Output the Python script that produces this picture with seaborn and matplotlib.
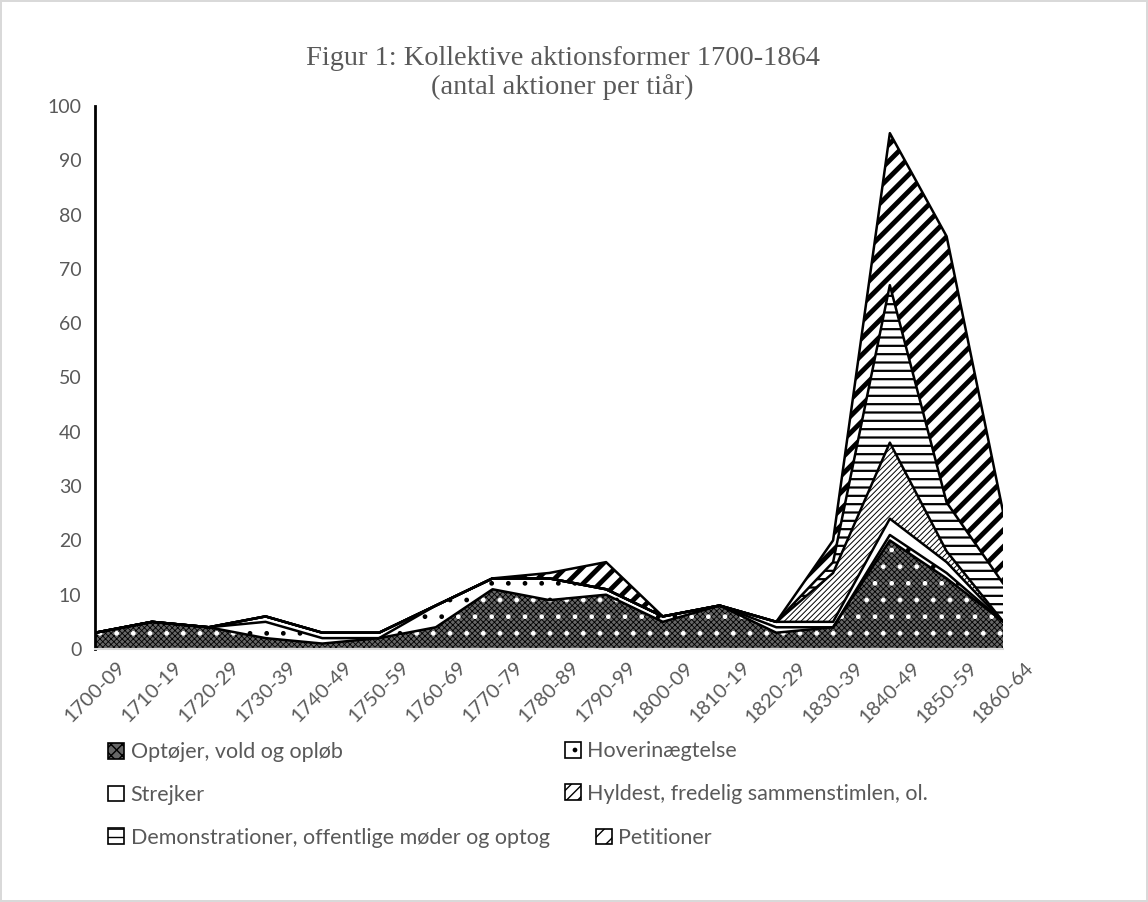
import numpy as np
import pandas as pd
import matplotlib
matplotlib.use("Agg")
import matplotlib.pyplot as plt
import seaborn as sns
from matplotlib.patches import Patch

# data (counts per decade, stacked)
periods = ["1700-09", "1710-19", "1720-29", "1730-39", "1740-49", "1750-59",
           "1760-69", "1770-79", "1780-89", "1790-99", "1800-09", "1810-19",
           "1820-29", "1830-39", "1840-49", "1850-59", "1860-64"]
optojer = [3, 5, 4, 2, 1, 2, 4, 11, 9, 10, 5, 8, 3, 4, 20, 13, 5]
hoverinaegtelse = [0, 0, 0, 3, 1, 0, 4, 2, 4, 1, 1, 0, 1, 0, 1, 1, 0]
strejker = [0, 0, 0, 1, 1, 1, 0, 0, 0, 0, 0, 0, 1, 1, 3, 2, 0]
hyldest = [0, 0, 0, 0, 0, 0, 0, 0, 0, 0, 0, 0, 0, 9, 14, 2, 0]
demonstrationer = [0, 0, 0, 0, 0, 0, 0, 0, 0, 0, 0, 0, 0, 2, 29, 9, 7]
petitioner = [0, 0, 0, 0, 0, 0, 0, 0, 1, 5, 0, 0, 0, 4, 28, 49, 13]

labels = ["Optøjer, vold og opløb", "Hoverinægtelse", "Strejker",
          "Hyldest, fredelig sammenstimlen, ol.",
          "Demonstrationer, offentlige møder og optog", "Petitioner"]

df = pd.DataFrame({labels[0]: optojer, labels[1]: hoverinaegtelse,
                   labels[2]: strejker, labels[3]: hyldest,
                   labels[4]: demonstrationer, labels[5]: petitioner},
                  index=periods)
cum = df.cumsum(axis=1)

sns.set_style("white")
plt.rcParams['font.family'] = ['Lato', 'DejaVu Sans']

# (facecolor, hatch, hatch linewidth)
styles = [("#666666", "xxxxxx", 0.6),
          ("white", ".", 1.0),
          ("white", "", 1.0),
          ("white", "//////", 0.7),
          ("white", "--", 1.6),
          ("white", "//", 3.5)]

fig, ax = plt.subplots(figsize=(11.48, 9.02), dpi=100)
fig.subplots_adjust(left=0.083, right=0.874, bottom=0.2805, top=0.8825)

x = np.arange(len(periods))
lower = np.zeros(len(periods))
handles = []
for lab, (fc, hatch, hlw) in zip(labels, styles):
    upper = cum[lab].to_numpy()
    plt.rcParams['hatch.linewidth'] = hlw
    poly = ax.fill_between(x, lower, upper, facecolor=fc, hatch=hatch,
                           edgecolor="black", linewidth=0)
    if hasattr(poly, "set_hatch_linewidth"):
        poly.set_hatch_linewidth(hlw)
    handles.append(Patch(facecolor=fc, hatch=hatch[:3] if hatch else "",
                         edgecolor="black", linewidth=1.2))
    lower = upper
plt.rcParams['hatch.linewidth'] = 1.0

# white speckles on the riot layer
ax.fill_between(x, 0, cum[labels[0]].to_numpy(), facecolor="none",
                hatch=".", edgecolor="white", linewidth=0)

# layer outlines
for lab in labels:
    sns.lineplot(x=x, y=cum[lab].to_numpy(), ax=ax, color="black",
                 linewidth=1.8, legend=False)

ax.set_xlim(0, len(periods) - 1)
ax.set_ylim(0, 100)
ax.set_yticks(range(0, 101, 10))
ax.set_xticks(x)
ax.set_xticklabels(periods, rotation=45, ha="center")

for side in ["top", "right"]:
    ax.spines[side].set_visible(False)
ax.spines["left"].set_color("black")
ax.spines["left"].set_linewidth(2)
ax.spines["bottom"].set_color("#d9d9d9")
ax.spines["bottom"].set_linewidth(1.5)
ax.tick_params(axis="y", direction="out", length=7, width=1.5, color="black",
               labelcolor="#595959", labelsize=14, pad=3)
ax.tick_params(axis="x", direction="out", length=7, width=1.5, color="#d9d9d9",
               labelcolor="#595959", labelsize=14.5, pad=0)

fig.text(0.49, 0.919, "Figur 1: Kollektive aktionsformer 1700-1864\n(antal aktioner per tiår)",
         ha="center", va="center", family="Liberation Serif", fontsize=20.4,
         color="#595959", linespacing=1.15)

leg_kw = dict(frameon=False, fontsize=15.5, labelcolor="#595959",
              handlelength=0.75, handleheight=0.75, handletextpad=0.3,
              labelspacing=1.05, borderpad=0, borderaxespad=0)
leg1 = fig.legend(handles=[handles[0], handles[2], handles[4]],
                  labels=[labels[0], labels[2], labels[4]],
                  loc="center left", bbox_to_anchor=(0.094, 0.1186), **leg_kw)
leg2 = fig.legend(handles=[handles[1], handles[3]],
                  labels=[labels[1], labels[3]],
                  loc="center left", bbox_to_anchor=(0.492, 0.1436), **leg_kw)
leg3 = fig.legend(handles=[handles[5]], labels=[labels[5]],
                  loc="center left", bbox_to_anchor=(0.519, 0.071), **leg_kw)

fig.patch.set_edgecolor("#d9d9d9")
fig.patch.set_linewidth(1.5)
fig.savefig("out.png", dpi=100, edgecolor=fig.get_edgecolor())
